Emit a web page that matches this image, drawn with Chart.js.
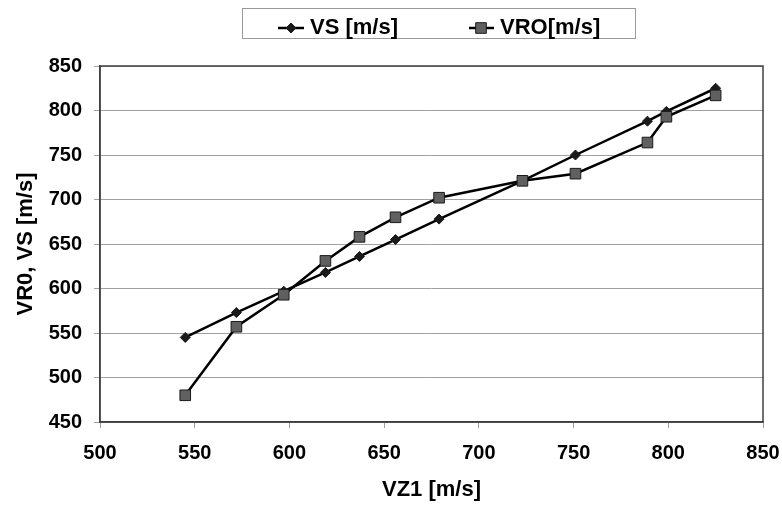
<!DOCTYPE html>
<html>
<head>
<meta charset="utf-8">
<script src="https://cdn.jsdelivr.net/npm/chart.js@4.4.1/dist/chart.umd.min.js"></script>
<style>
  html, body { margin: 0; padding: 0; background: #ffffff; }
  #wrap { position: relative; width: 782px; height: 505px; }
</style>
</head>
<body>
<div id="wrap"><canvas id="c" width="782" height="505"></canvas></div>
<script>
// ---- data ----
const vz1 = [545, 572, 597, 619, 637, 656, 679, 723, 751, 789, 799, 825];
const vsValues = [545, 573, 597, 618, 636, 655, 678, 721, 750, 788, 799, 825];
const vroValues = [480, 557, 593, 631, 658, 680, 702, 721, 729, 764, 793, 817];
const seriesNames = ['VS [m/s]', 'VRO[m/s]'];
const xTitle = 'VZ1 [m/s]';
const yTitle = 'VR0, VS [m/s]';
const xTicks = [500, 550, 600, 650, 700, 750, 800, 850];
const yTicks = [450, 500, 550, 600, 650, 700, 750, 800, 850];

const FONT = "'Liberation Sans', Arial, sans-serif";
const toPoints = (xs, ys) => xs.map((x, i) => ({ x: x, y: ys[i] }));

const frame = {
  id: 'frame',
  afterDatasetsDraw(chart) {
    const { ctx, chartArea: a } = chart;
    ctx.save();
    ctx.strokeStyle = '#404040';
    ctx.lineWidth = 1.5;
    ctx.strokeRect(a.left, a.top, a.right - a.left, a.bottom - a.top);
    ctx.restore();
  }
};

const customLegend = {
  id: 'customLegend',
  afterDraw(chart) {
    const ctx = chart.ctx;
    ctx.save();
    ctx.strokeStyle = '#9a9a9a';
    ctx.lineWidth = 1;
    ctx.strokeRect(242.5, 8.5, 393, 30);
    const cy = 28;
    const items = [
      { x0: 278, x1: 304, mx: 291, text: 310, ds: chart.data.datasets[0] },
      { x0: 469, x1: 494, mx: 481, text: 500, ds: chart.data.datasets[1] }
    ];
    items.forEach(it => {
      ctx.strokeStyle = '#000';
      ctx.lineWidth = 2.5;
      ctx.beginPath();
      ctx.moveTo(it.x0, cy); ctx.lineTo(it.x1, cy);
      ctx.stroke();
      ctx.fillStyle = it.ds.pointBackgroundColor;
      ctx.strokeStyle = it.ds.pointBorderColor;
      ctx.lineWidth = 1;
      ctx.beginPath();
      if (it.ds.pointStyle === 'rectRot') {
        const r = it.ds.pointRadius;
        ctx.moveTo(it.mx, cy - r); ctx.lineTo(it.mx + r, cy);
        ctx.lineTo(it.mx, cy + r); ctx.lineTo(it.mx - r, cy);
        ctx.closePath();
      } else {
        const s = it.ds.pointRadius * Math.SQRT1_2;
        ctx.rect(it.mx - s, cy - s, 2 * s, 2 * s);
      }
      ctx.fill(); ctx.stroke();
      ctx.fillStyle = '#000';
      ctx.font = 'bold 22px ' + FONT;
      ctx.textBaseline = 'middle';
      ctx.textAlign = 'left';
      ctx.fillText(it.ds.label, it.text, cy);
    });
    ctx.restore();
  }
};

new Chart(document.getElementById('c'), {
  type: 'scatter',
  data: {
    datasets: [
      {
        label: seriesNames[0],
        data: toPoints(vz1, vsValues),
        showLine: true,
        borderColor: '#000000',
        borderWidth: 2.5,
        pointStyle: 'rectRot',
        pointRadius: 5,
        pointBackgroundColor: '#1a1a1a',
        pointBorderColor: '#1a1a1a',
        pointBorderWidth: 1,
        order: 1
      },
      {
        label: seriesNames[1],
        data: toPoints(vz1, vroValues),
        showLine: true,
        borderColor: '#000000',
        borderWidth: 2.5,
        pointStyle: 'rect',
        pointRadius: 7.5,
        pointBackgroundColor: '#606060',
        pointBorderColor: '#1a1a1a',
        pointBorderWidth: 1,
        order: 0
      }
    ]
  },
  options: {
    responsive: false,
    animation: false,
    layout: { padding: { top: 66, right: 19, left: 0, bottom: 0 } },
    plugins: {
      legend: { display: false },
      tooltip: { enabled: false }
    },
    scales: {
      x: {
        type: 'linear',
        min: xTicks[0],
        max: xTicks[xTicks.length - 1],
        afterBuildTicks: s => { s.ticks = xTicks.map(v => ({ value: v })); },
        afterFit: s => { s.height = 83; },
        grid: { drawOnChartArea: false, drawTicks: true, tickLength: 6, color: '#a0a0a0' },
        border: { display: true, color: '#404040', width: 1.5 },
        ticks: { padding: 0, color: '#000', font: { family: FONT, size: 20, weight: 'bold', lineHeight: 2.5 } },
        title: { display: true, text: xTitle, color: '#000', padding: { top: 0, bottom: 2 },
                 font: { family: FONT, size: 22, weight: 'bold' } }
      },
      y: {
        type: 'linear',
        min: yTicks[0],
        max: yTicks[yTicks.length - 1],
        afterBuildTicks: s => { s.ticks = yTicks.map(v => ({ value: v })); },
        afterFit: s => { s.width = 100; },
        grid: { color: '#a0a0a0', lineWidth: 1, drawTicks: true, tickLength: 6 },
        border: { display: true, color: '#404040', width: 1.5 },
        ticks: { padding: 12, color: '#000', font: { family: FONT, size: 20, weight: 'bold' } },
        title: { display: true, text: yTitle, color: '#000', padding: { top: 13, bottom: 0 },
                 font: { family: FONT, size: 22, weight: 'bold' } }
      }
    }
  },
  plugins: [frame, customLegend]
});
</script>
</body>
</html>
